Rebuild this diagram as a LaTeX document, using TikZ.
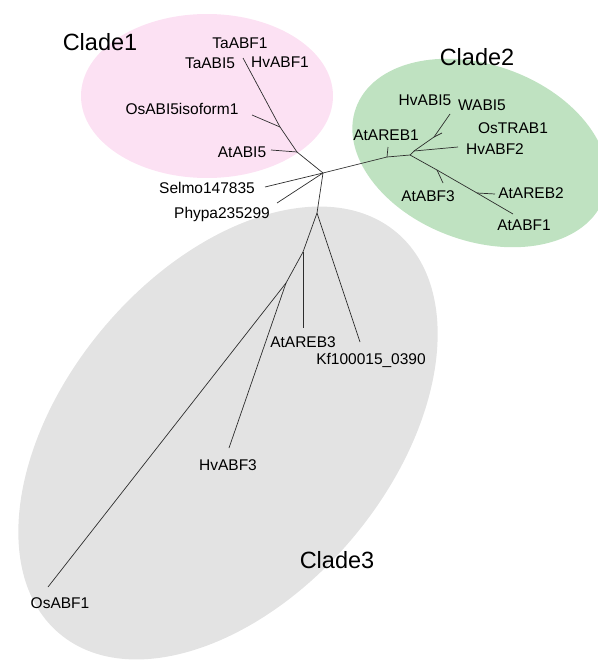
\documentclass[tikz,border=0pt]{standalone}
\usepackage{fontspec}
\setmainfont{Liberation Sans}
\usepackage{xcolor}
\definecolor{cladeone}{RGB}{252,225,243}
\definecolor{cladetwo}{RGB}{191,226,193}
\definecolor{cladethree}{RGB}{227,227,227}
\definecolor{branchcol}{RGB}{45,45,45}
\begin{document}
\begin{tikzpicture}[x=1pt,y=-1pt,
        leaf/.style={inner sep=0pt,font=\fontsize{15.5}{18}\selectfont},
        clade/.style={inner sep=0pt,font=\fontsize{23.5}{28}\selectfont},
        branch/.style={draw=branchcol,line width=0.7pt}]
    \useasboundingbox (0,0) rectangle (597,661);

    % Background
    \fill[cladeone] (207,96) ellipse [x radius=126pt,y radius=82pt];
    \fill[cladetwo,rotate around={-20:(480,153)}] (480,153) ellipse [x radius=132pt,y radius=88pt];
    \fill[cladethree,rotate around={50:(228,433)}] (228,433) ellipse [x radius=262pt,y radius=163pt];

    % tree
    \coordinate (r) at (323,173);
    \coordinate (c1a) at (297,152);  \coordinate (c1b) at (280,127);
    \coordinate (t1top) at (243,58); \coordinate (t1os) at (252,115);
    \coordinate (t1at) at (271,150);
    \coordinate (tselmo) at (265,187); \coordinate (tphypa) at (277,203);
    \coordinate (c2a) at (387,157);  \coordinate (c2b) at (410,155);
    \coordinate (c2c) at (414,151);  \coordinate (c2d) at (434,137);
    \coordinate (c2e) at (437,170);  \coordinate (c2f) at (477,193);
    \coordinate (t2areb1) at (388,147); \coordinate (t2top) at (450,114);
    \coordinate (t2side) at (442,133);  \coordinate (t2hv) at (458,147);
    \coordinate (t2abf3) at (443,183);  \coordinate (t2areb2) at (495,194);
    \coordinate (t2abf1) at (513,214);
    \coordinate (c3a) at (317,213);  \coordinate (c3b) at (303,252);
    \coordinate (c3c) at (286,283);
    \coordinate (t3kf) at (360,342); \coordinate (t3areb3) at (303,328);
    \coordinate (t3hv) at (229,448); \coordinate (t3os) at (48,587);

    \draw[branch] (r) -- (c1a) -- (c1b) -- (t1top);
    \draw[branch] (c1a) -- (t1at);
    \draw[branch] (c1b) -- (t1os);
    \draw[branch] (r) -- (tselmo);
    \draw[branch] (r) -- (tphypa);
    \draw[branch] (r) -- (c2a) -- (c2b) -- (c2c) -- (c2d) -- (t2top);
    \draw[branch] (c2a) -- (t2areb1);
    \draw[branch] (c2c) -- (t2hv);
    \draw[branch] (c2d) -- (t2side);
    \draw[branch] (c2b) -- (c2e) -- (c2f) -- (t2abf1);
    \draw[branch] (c2e) -- (t2abf3);
    \draw[branch] (c2f) -- (t2areb2);
    \draw[branch] (r) -- (c3a) -- (c3b) -- (c3c) -- (t3os);
    \draw[branch] (c3a) -- (t3kf);
    \draw[branch] (c3b) -- (t3areb3);
    \draw[branch] (c3c) -- (t3hv);

    % labels
    \node[clade] (clade1) at (100,42) {Clade1};
    \node[clade] (clade2) at (477,57) {Clade2};
    \node[clade] (clade3) at (337,560) {Clade3};
    \node[leaf] (TaABF1) at (240,43) {TaABF1};
    \node[leaf] (TaABI5) at (210,63) {TaABI5};
    \node[leaf] (HvABF1) at (280,62) {HvABF1};
    \node[leaf] (OsABI5iso) at (182,109) {OsABI5isoform1};
    \node[leaf] (AtABI5) at (242,152) {AtABI5};
    \node[leaf] (Selmo) at (207,188) {Selmo147835};
    \node[leaf] (Phypa) at (222,214) {Phypa235299};
    \node[leaf] (HvABI5) at (425,100) {HvABI5};
    \node[leaf] (WABI5) at (482,105) {WABI5};
    \node[leaf] (OsTRAB1) at (513,128) {OsTRAB1};
    \node[leaf] (AtAREB1) at (386,135) {AtAREB1};
    \node[leaf] (HvABF2) at (495,149) {HvABF2};
    \node[leaf] (AtABF3) at (428,196) {AtABF3};
    \node[leaf] (AtAREB2) at (531,193) {AtAREB2};
    \node[leaf] (AtABF1) at (524,225) {AtABF1};
    \node[leaf] (AtAREB3) at (303,342) {AtAREB3};
    \node[leaf] (Kf) at (371,360) {Kf100015\_0390};
    \node[leaf] (HvABF3) at (228,465) {HvABF3};
    \node[leaf] (OsABF1) at (60,603) {OsABF1};
\end{tikzpicture}
\end{document}
